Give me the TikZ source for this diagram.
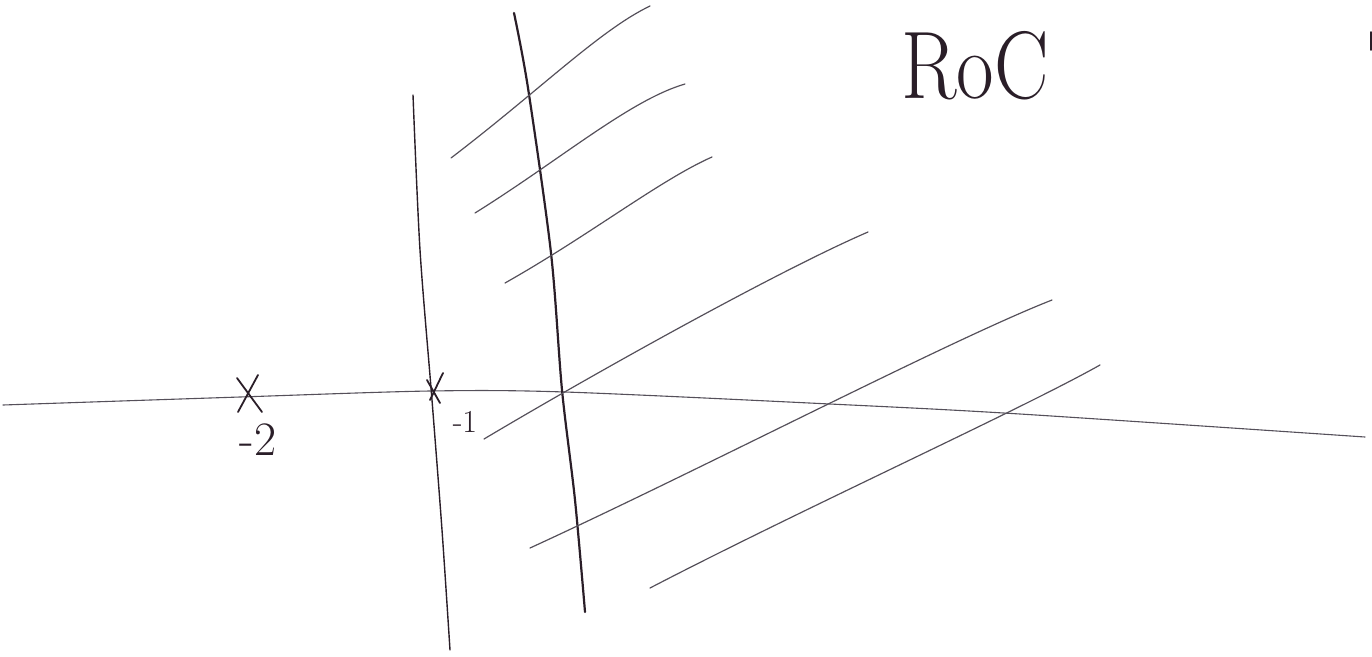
\documentclass[tikz,border=0pt]{standalone}
\usetikzlibrary{calc}
\definecolor{ink}{HTML}{2A1E28}
\definecolor{pencil}{HTML}{55505A}
\begin{document}
\begin{tikzpicture}[x=1pt,y=-1pt,
  axisline/.style={draw=pencil,line width=1.1pt,line cap=round,line join=round},
  thinline/.style={draw=ink,line width=1.4pt,line cap=round,line join=round},
  thickline/.style={draw=ink,line width=2.2pt,line cap=round,line join=round},
  hatch/.style={draw=pencil,line width=1.2pt,line cap=round},
  xstroke/.style={draw=ink,line width=1.8pt,line cap=round},
  lbl/.style={text=ink,inner sep=0pt}]
\useasboundingbox (0,0) rectangle (1372,656);
% real axis
\draw[axisline] plot[smooth] coordinates {(3,405) (240,397) (430,391) (565,392) (830,404) (1020,414) (1365,437)};
% boundary lines
\draw[thinline] plot[smooth] coordinates {(413,95) (420,250) (432,400) (442,530) (450,650)};
\draw[thickline] plot[smooth] coordinates {(514,13) (528,88) (551,253) (562,390) (575,500) (585,612)};
% hatching of the region of convergence
\draw[hatch] (451,158) .. controls (540,90) and (600,30) .. (650,6);
\draw[hatch] (475,213) .. controls (560,160) and (630,100) .. (685,84);
\draw[hatch] (505,283) .. controls (590,235) and (660,180) .. (712,157);
\draw[hatch] (484,439) .. controls (600,370) and (780,270) .. (868,232);
\draw[hatch] (530,548) .. controls (700,470) and (950,340) .. (1052,300);
\draw[hatch] (650,588) .. controls (800,510) and (1020,410) .. (1100,365);
% poles
\coordinate (p2) at (249,394);
\coordinate (p1) at (435,389);
\draw[xstroke] ($(p2)+(-12,-16)$) -- ($(p2)+(13,18)$);
\draw[xstroke] ($(p2)+(9,-19)$) -- ($(p2)+(-11,18)$);
\draw[xstroke] ($(p1)+(-8,-9)$) -- ($(p1)+(5,14)$);
\draw[xstroke] ($(p1)+(8,-16)$) -- ($(p1)+(-5,11)$);
% labels
\node[lbl,font=\fontsize{48}{48}\selectfont] (m2) at (258,440) {-2};
\node[lbl,font=\fontsize{32}{32}\selectfont] (m1) at (465,422) {-1};
\node[lbl,font=\fontsize{96}{96}\selectfont,xscale=0.85] (roc) at (975,66) {RoC};
% partial stroke at the right edge
\draw[xstroke] (1371,32) -- (1371,50);
\end{tikzpicture}
\end{document}
